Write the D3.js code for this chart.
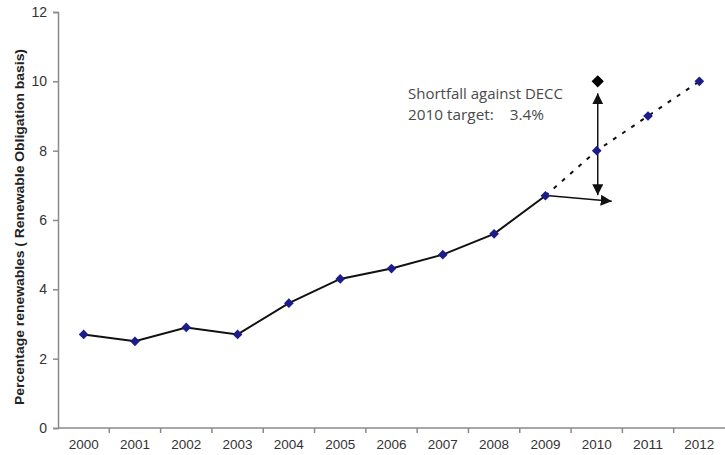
<!DOCTYPE html>
<html>
<head>
<meta charset="utf-8">
<script src="https://cdn.jsdelivr.net/npm/d3@7"></script>
<style>
  html, body { margin: 0; padding: 0; background: #fff; }
  svg { display: block; }
</style>
</head>
<body>
<svg id="chart" width="725" height="455"></svg>
<script>
// Years on the category axis
const years = ["2000","2001","2002","2003","2004","2005","2006","2007","2008","2009","2010","2011","2012"];
// Recorded share of renewables, 2000–2009
const actualYears = ["2000","2001","2002","2003","2004","2005","2006","2007","2008","2009"];
const actualValues = [2.7, 2.5, 2.9, 2.7, 3.6, 4.3, 4.6, 5.0, 5.6, 6.7];
// Projected trajectory, 2009–2012
const projYears = ["2009","2010","2011","2012"];
const projValues = [6.7, 8.0, 9.0, 10.0];
// DECC 2010 target and the shortfall against it
const targetYear = "2010";
const targetValue = 10.0;
const shortfall = 3.4;
const yTicks = [0, 2, 4, 6, 8, 10, 12];

const svg = d3.select("#chart");
const plotLeft = 58, plotRight = 725, plotTop = 12, plotBottom = 428;

const x = d3.scaleBand().domain(years).range([plotLeft, plotRight]).padding(0);
const y = d3.scaleLinear().domain([0, 12]).range([plotBottom, plotTop]);
const cx = d => x(d) + x.bandwidth() / 2;

const axisColor = "#8a8a8a";
const textColor = "#333";

// Arrow heads
const defs = svg.append("defs");
defs.append("marker")
  .attr("id", "head").attr("viewBox", "0 0 10 10")
  .attr("refX", 10).attr("refY", 5)
  .attr("markerWidth", 11).attr("markerHeight", 11)
  .attr("markerUnits", "userSpaceOnUse")
  .attr("orient", "auto-start-reverse")
  .append("path").attr("d", "M0,0 L10,5 L0,10 Z").attr("fill", "#111");

// Y axis
const yAxis = svg.append("g")
  .attr("transform", `translate(${plotLeft},0)`)
  .call(d3.axisLeft(y).tickValues(yTicks).tickSize(5).tickPadding(6).tickFormat(d3.format("d")));
yAxis.select(".domain").attr("stroke", axisColor).attr("stroke-width", 1.5);
yAxis.selectAll(".tick line").attr("stroke", axisColor).attr("stroke-width", 1.5);
yAxis.selectAll(".tick text")
  .attr("fill", textColor).attr("font-family", "Liberation Sans, Arial, sans-serif").attr("font-size", 14);

// X axis with ticks between categories
const xAxisG = svg.append("g").attr("transform", `translate(0,${plotBottom})`);
xAxisG.append("line")
  .attr("x1", plotLeft).attr("x2", plotRight).attr("y1", 0).attr("y2", 0)
  .attr("stroke", axisColor).attr("stroke-width", 1.5);
xAxisG.selectAll("line.tk").data(years.slice(1)).join("line")
  .attr("class", "tk")
  .attr("x1", d => x(d)).attr("x2", d => x(d))
  .attr("y1", 0).attr("y2", 5)
  .attr("stroke", axisColor).attr("stroke-width", 1.5);
xAxisG.selectAll("text").data(years).join("text")
  .attr("x", d => cx(d)).attr("y", 21)
  .attr("text-anchor", "middle")
  .attr("fill", textColor)
  .attr("font-family", "Liberation Sans, Arial, sans-serif").attr("font-size", 13)
  .attr("textLength", 30).attr("lengthAdjust", "spacingAndGlyphs")
  .text(d => d);

// Y axis title
svg.append("text")
  .attr("transform", `translate(24,227) rotate(-90)`)
  .attr("text-anchor", "middle")
  .attr("fill", "#222")
  .attr("font-family", "Liberation Sans, Arial, sans-serif").attr("font-size", 13.5).attr("font-weight", "bold")
  .attr("textLength", 356).attr("lengthAdjust", "spacingAndGlyphs")
  .text("Percentage renewables ( Renewable Obligation basis)");

// Projected trajectory (dotted)
const line = d3.line().x(d => cx(d[0])).y(d => y(d[1]));
svg.append("path")
  .datum(projYears.map((d, i) => [d, projValues[i]]))
  .attr("d", line)
  .attr("fill", "none").attr("stroke", "#111").attr("stroke-width", 2)
  .attr("stroke-dasharray", "4,7");

// Recorded series
svg.append("path")
  .datum(actualYears.map((d, i) => [d, actualValues[i]]))
  .attr("d", line)
  .attr("fill", "none").attr("stroke", "#111").attr("stroke-width", 2);

// Shortfall arrows
const actual2010 = targetValue - shortfall;
svg.append("line")
  .attr("x1", cx(targetYear) + 1).attr("x2", cx(targetYear) + 1)
  .attr("y1", y(actual2010) - 4).attr("y2", y(targetValue) + 12)
  .attr("stroke", "#111").attr("stroke-width", 1.5)
  .attr("marker-start", "url(#head)").attr("marker-end", "url(#head)");
svg.append("line")
  .attr("x1", cx("2009") + 4).attr("y1", y(projValues[0]))
  .attr("x2", cx(targetYear) + 15).attr("y2", y(actual2010) + 2)
  .attr("stroke", "#111").attr("stroke-width", 1.5)
  .attr("marker-end", "url(#head)");

// Diamond markers
const diamond = d3.symbol().type(d3.symbolDiamond2);
const markerPts = actualYears.map((d, i) => [d, actualValues[i]])
  .concat(projYears.slice(1).map((d, i) => [d, projValues[i + 1]]));
svg.selectAll("path.pt").data(markerPts).join("path")
  .attr("class", "pt")
  .attr("transform", d => `translate(${cx(d[0])},${y(d[1])})`)
  .attr("d", diamond.size(60)())
  .attr("fill", "#1c1c8a");

svg.append("path")
  .attr("transform", `translate(${cx(targetYear) + 1},${y(targetValue)})`)
  .attr("d", diamond.size(95)())
  .attr("fill", "#000");

// Annotation
const note = svg.append("text")
  .attr("fill", "#4a4a4a")
  .attr("font-family", "Open Sans, Liberation Sans, sans-serif").attr("font-size", 14);
note.append("tspan").attr("x", 408).attr("y", 99)
  .attr("textLength", 155).attr("lengthAdjust", "spacingAndGlyphs")
  .text("Shortfall against DECC");
note.append("tspan").attr("x", 408).attr("y", 120).attr("xml:space", "preserve")
  .attr("textLength", 136).attr("lengthAdjust", "spacingAndGlyphs")
  .text(`2010 target:    ${shortfall}%`);
</script>
</body>
</html>
